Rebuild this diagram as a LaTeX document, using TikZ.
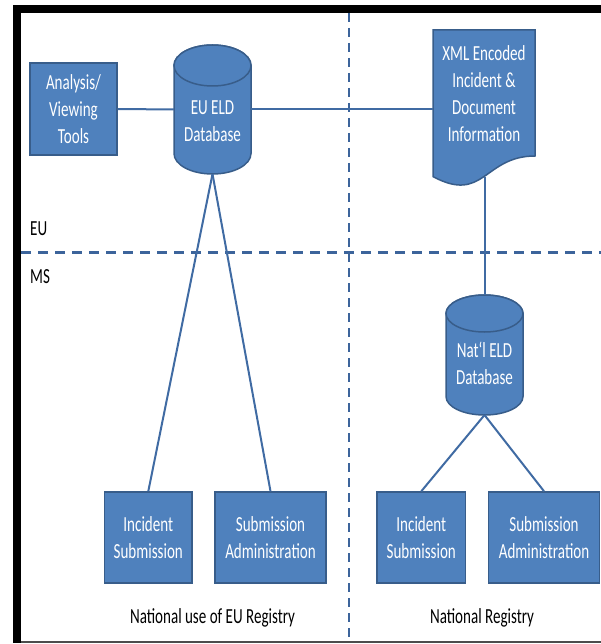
\documentclass[tikz,border=0pt]{standalone}
\usepackage{fontspec}
\setmainfont[FakeStretch=0.70]{Carlito}
\definecolor{boxfill}{RGB}{79,129,189}
\definecolor{boxline}{RGB}{56,93,138}
\definecolor{connc}{RGB}{64,107,163}
\definecolor{sepc}{RGB}{60,100,155}
\newcommand\mydbcyl[5]{% cx, ytop, ybot, rx, ry
  \filldraw[dbshape] (#1-#4,#2+#5) -- (#1-#4,#3-#5)
    arc[start angle=180,end angle=0,x radius=#4,y radius=#5]
    -- (#1+#4,#2+#5)
    arc[start angle=0,end angle=-180,x radius=#4,y radius=#5] -- cycle;
  \filldraw[dbshape] (#1,#2+#5) ellipse[x radius=#4,y radius=#5];
}
\begin{document}
\begin{tikzpicture}[x=1pt,y=-1pt,
  txt/.style={font=\fontsize{21.5}{27}\selectfont, align=center, inner sep=0pt},
  wtxt/.style={txt, text=white},
  btxt/.style={txt, text=black},
  boxnode/.style={rectangle, draw=boxline, line width=1.5pt, fill=boxfill, wtxt},
  dbshape/.style={draw=boxline, line width=1.5pt, fill=boxfill},
  anchorbox/.style={rectangle, draw=none, inner sep=0pt, outer sep=0pt},
  conn/.style={draw=connc, line width=2pt},
  hsep/.style={draw=sepc, line width=3pt, dash pattern=on 10pt off 7pt},
  vsep/.style={draw=sepc, line width=2.2pt, dash pattern=on 9pt off 6pt}]
\useasboundingbox (0,0) rectangle (601,644);
% frame
\fill[black] (13,5) rectangle (21,643);
\fill[black] (13,5) rectangle (601,13);
\draw[black!70, line width=1.5pt] (21,642) -- (601,642);
% separators
\draw[vsep] (349,13) -- (349,641);
\draw[hsep] (21,252) -- (601,252);
% labels
\node[btxt, anchor=west] (eu) at (30,229) {EU};
\node[btxt, anchor=west] (ms) at (30,277) {MS};
\node[btxt] (lab1) at (212.5,618) {National use of EU Registry};
\node[btxt] (lab2) at (482,618) {National Registry};
% analysis box
\node[boxnode, minimum width=87pt, minimum height=92pt] (ana) at (73.5,109) {Analysis/\\Viewing\\Tools};
% EU database
\mydbcyl{212.5}{45}{174}{38.5}{20.5}
\node[anchorbox, minimum width=77pt, minimum height=129pt] (eudb) at (212.5,109.5) {};
\node[wtxt] (eudbt) at (212.5,121.5) {EU ELD\\Database};
% XML document
\filldraw[dbshape] (433,30) -- (535,30) -- (535,156)
  .. controls (484,156) and (484,204) .. (433,176.6) -- cycle;
\node[anchorbox, minimum width=102pt, minimum height=146pt] (xml) at (484,103) {};
\node[wtxt] (xmlt) at (484,94) {XML Encoded\\Incident \&\\Document\\Information};
\coordinate (xmlb) at (484.5,177);
% national database
\mydbcyl{484.5}{295}{415}{38.5}{18.5}
\node[anchorbox, minimum width=77pt, minimum height=120pt] (natdb) at (484.5,355) {};
\node[wtxt] (natdbt) at (484.5,363.5) {Nat‘l ELD\\Database};
% bottom boxes
\node[boxnode, minimum width=87.5pt, minimum height=91pt] (inc1) at (148.3,537.5) {Incident\\Submission};
\node[boxnode, minimum width=111pt, minimum height=91pt] (adm1) at (270.5,537.5) {Submission\\Administration};
\node[boxnode, minimum width=88.5pt, minimum height=91pt] (inc2) at (421.3,537.5) {Incident\\Submission};
\node[boxnode, minimum width=111pt, minimum height=91pt] (adm2) at (544,537.5) {Submission\\Administration};
% connectors
\draw[conn] (ana.east) -- (eudb.west);
\draw[conn] (eudb.east) -- (eudb.east -| xml.west);
\draw[conn] (xmlb) -- (natdb.north);
\draw[conn] (eudb.south) -- (inc1.north);
\draw[conn] (eudb.south) -- (adm1.north);
\draw[conn] (natdb.south) -- (inc2.north);
\draw[conn] (natdb.south) -- (adm2.north);
\end{tikzpicture}
\end{document}
